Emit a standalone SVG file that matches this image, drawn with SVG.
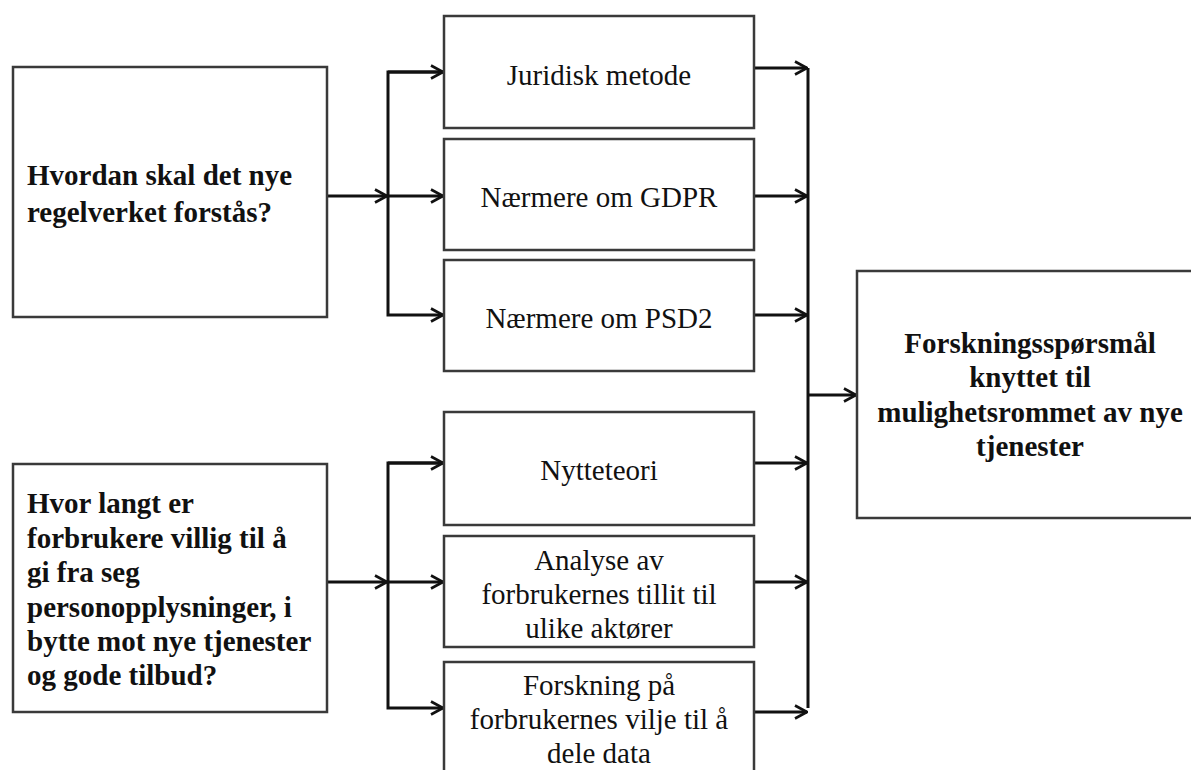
<svg xmlns="http://www.w3.org/2000/svg" width="1191" height="770" viewBox="0 0 1191 770">
<style>
.box{fill:#fff;stroke:#3a3a3a;stroke-width:2.5}
.t{font-family:"Liberation Serif","Times New Roman",serif;font-size:29px;fill:#111}
.b{font-weight:bold}
.c{text-anchor:middle}
.ln{fill:none;stroke:#111;stroke-width:3}
</style>
<defs>
<marker id="arr" viewBox="0 0 14 16" markerWidth="14" markerHeight="16" refX="13" refY="8" orient="auto" markerUnits="userSpaceOnUse">
<path d="M1,1.5 L13,8 L1,14.5" fill="none" stroke="#111" stroke-width="2.6"/>
</marker>
</defs>
<rect width="1191" height="770" fill="#fff"/>
<g id="connectors">
<path class="ln" d="M327,196 H387" marker-end="url(#arr)"/>
<path class="ln" d="M443,72 H388 V315 H443" marker-end="url(#arr)"/>
<path class="ln" d="M388,72 H443" marker-end="url(#arr)"/>
<path class="ln" d="M388,196 H443" marker-end="url(#arr)"/>
<path class="ln" d="M327,582 H387" marker-end="url(#arr)"/>
<path class="ln" d="M443,463 H388 V708 H443" marker-end="url(#arr)"/>
<path class="ln" d="M388,463 H443" marker-end="url(#arr)"/>
<path class="ln" d="M388,582 H443" marker-end="url(#arr)"/>
<path class="ln" d="M808,68 V708"/>
<path class="ln" d="M754,68 H807" marker-end="url(#arr)"/>
<path class="ln" d="M754,196 H807" marker-end="url(#arr)"/>
<path class="ln" d="M754,315 H807" marker-end="url(#arr)"/>
<path class="ln" d="M754,463 H807" marker-end="url(#arr)"/>
<path class="ln" d="M754,582 H807" marker-end="url(#arr)"/>
<path class="ln" d="M754,712 H807" marker-end="url(#arr)"/>
<path class="ln" d="M808,395 H856" marker-end="url(#arr)"/>
</g>
<g id="q1">
<rect class="box" x="13" y="67" width="314" height="250"/>
<text class="t b" x="27" y="185">Hvordan skal det nye</text>
<text class="t b" x="27" y="222">regelverket forstås?</text>
</g>
<g id="q2">
<rect class="box" x="13" y="464" width="314" height="248"/>
<text class="t b" x="27" y="513">Hvor langt er</text>
<text class="t b" x="27" y="548">forbrukere villig til å</text>
<text class="t b" x="27" y="582">gi fra seg</text>
<text class="t b" x="27" y="617">personopplysninger, i</text>
<text class="t b" x="27" y="651">bytte mot nye tjenester</text>
<text class="t b" x="27" y="685">og gode tilbud?</text>
</g>
<g id="m1">
<rect class="box" x="444" y="16" width="310" height="112"/>
<text class="t c" x="599" y="85">Juridisk metode</text>
</g>
<g id="m2">
<rect class="box" x="444" y="139" width="310" height="111"/>
<text class="t c" x="599" y="207">Nærmere om GDPR</text>
</g>
<g id="m3">
<rect class="box" x="444" y="260" width="310" height="111"/>
<text class="t c" x="599" y="328">Nærmere om PSD2</text>
</g>
<g id="m4">
<rect class="box" x="444" y="412" width="310" height="113"/>
<text class="t c" x="599" y="480">Nytteteori</text>
</g>
<g id="m5">
<rect class="box" x="444" y="536" width="310" height="111"/>
<text class="t c" x="599" y="570">Analyse av</text>
<text class="t c" x="599" y="604">forbrukernes tillit til</text>
<text class="t c" x="599" y="638">ulike aktører</text>
</g>
<g id="m6">
<rect class="box" x="444" y="662" width="310" height="130"/>
<text class="t c" x="599" y="695">Forskning på</text>
<text class="t c" x="599" y="729">forbrukernes vilje til å</text>
<text class="t c" x="599" y="763">dele data</text>
</g>
<g id="result">
<rect class="box" x="857" y="271" width="346" height="247"/>
<text class="t b c" x="1030" y="353">Forskningsspørsmål</text>
<text class="t b c" x="1030" y="387">knyttet til</text>
<text class="t b c" x="1030" y="422">mulighetsrommet av nye</text>
<text class="t b c" x="1030" y="456">tjenester</text>
</g>
</svg>
